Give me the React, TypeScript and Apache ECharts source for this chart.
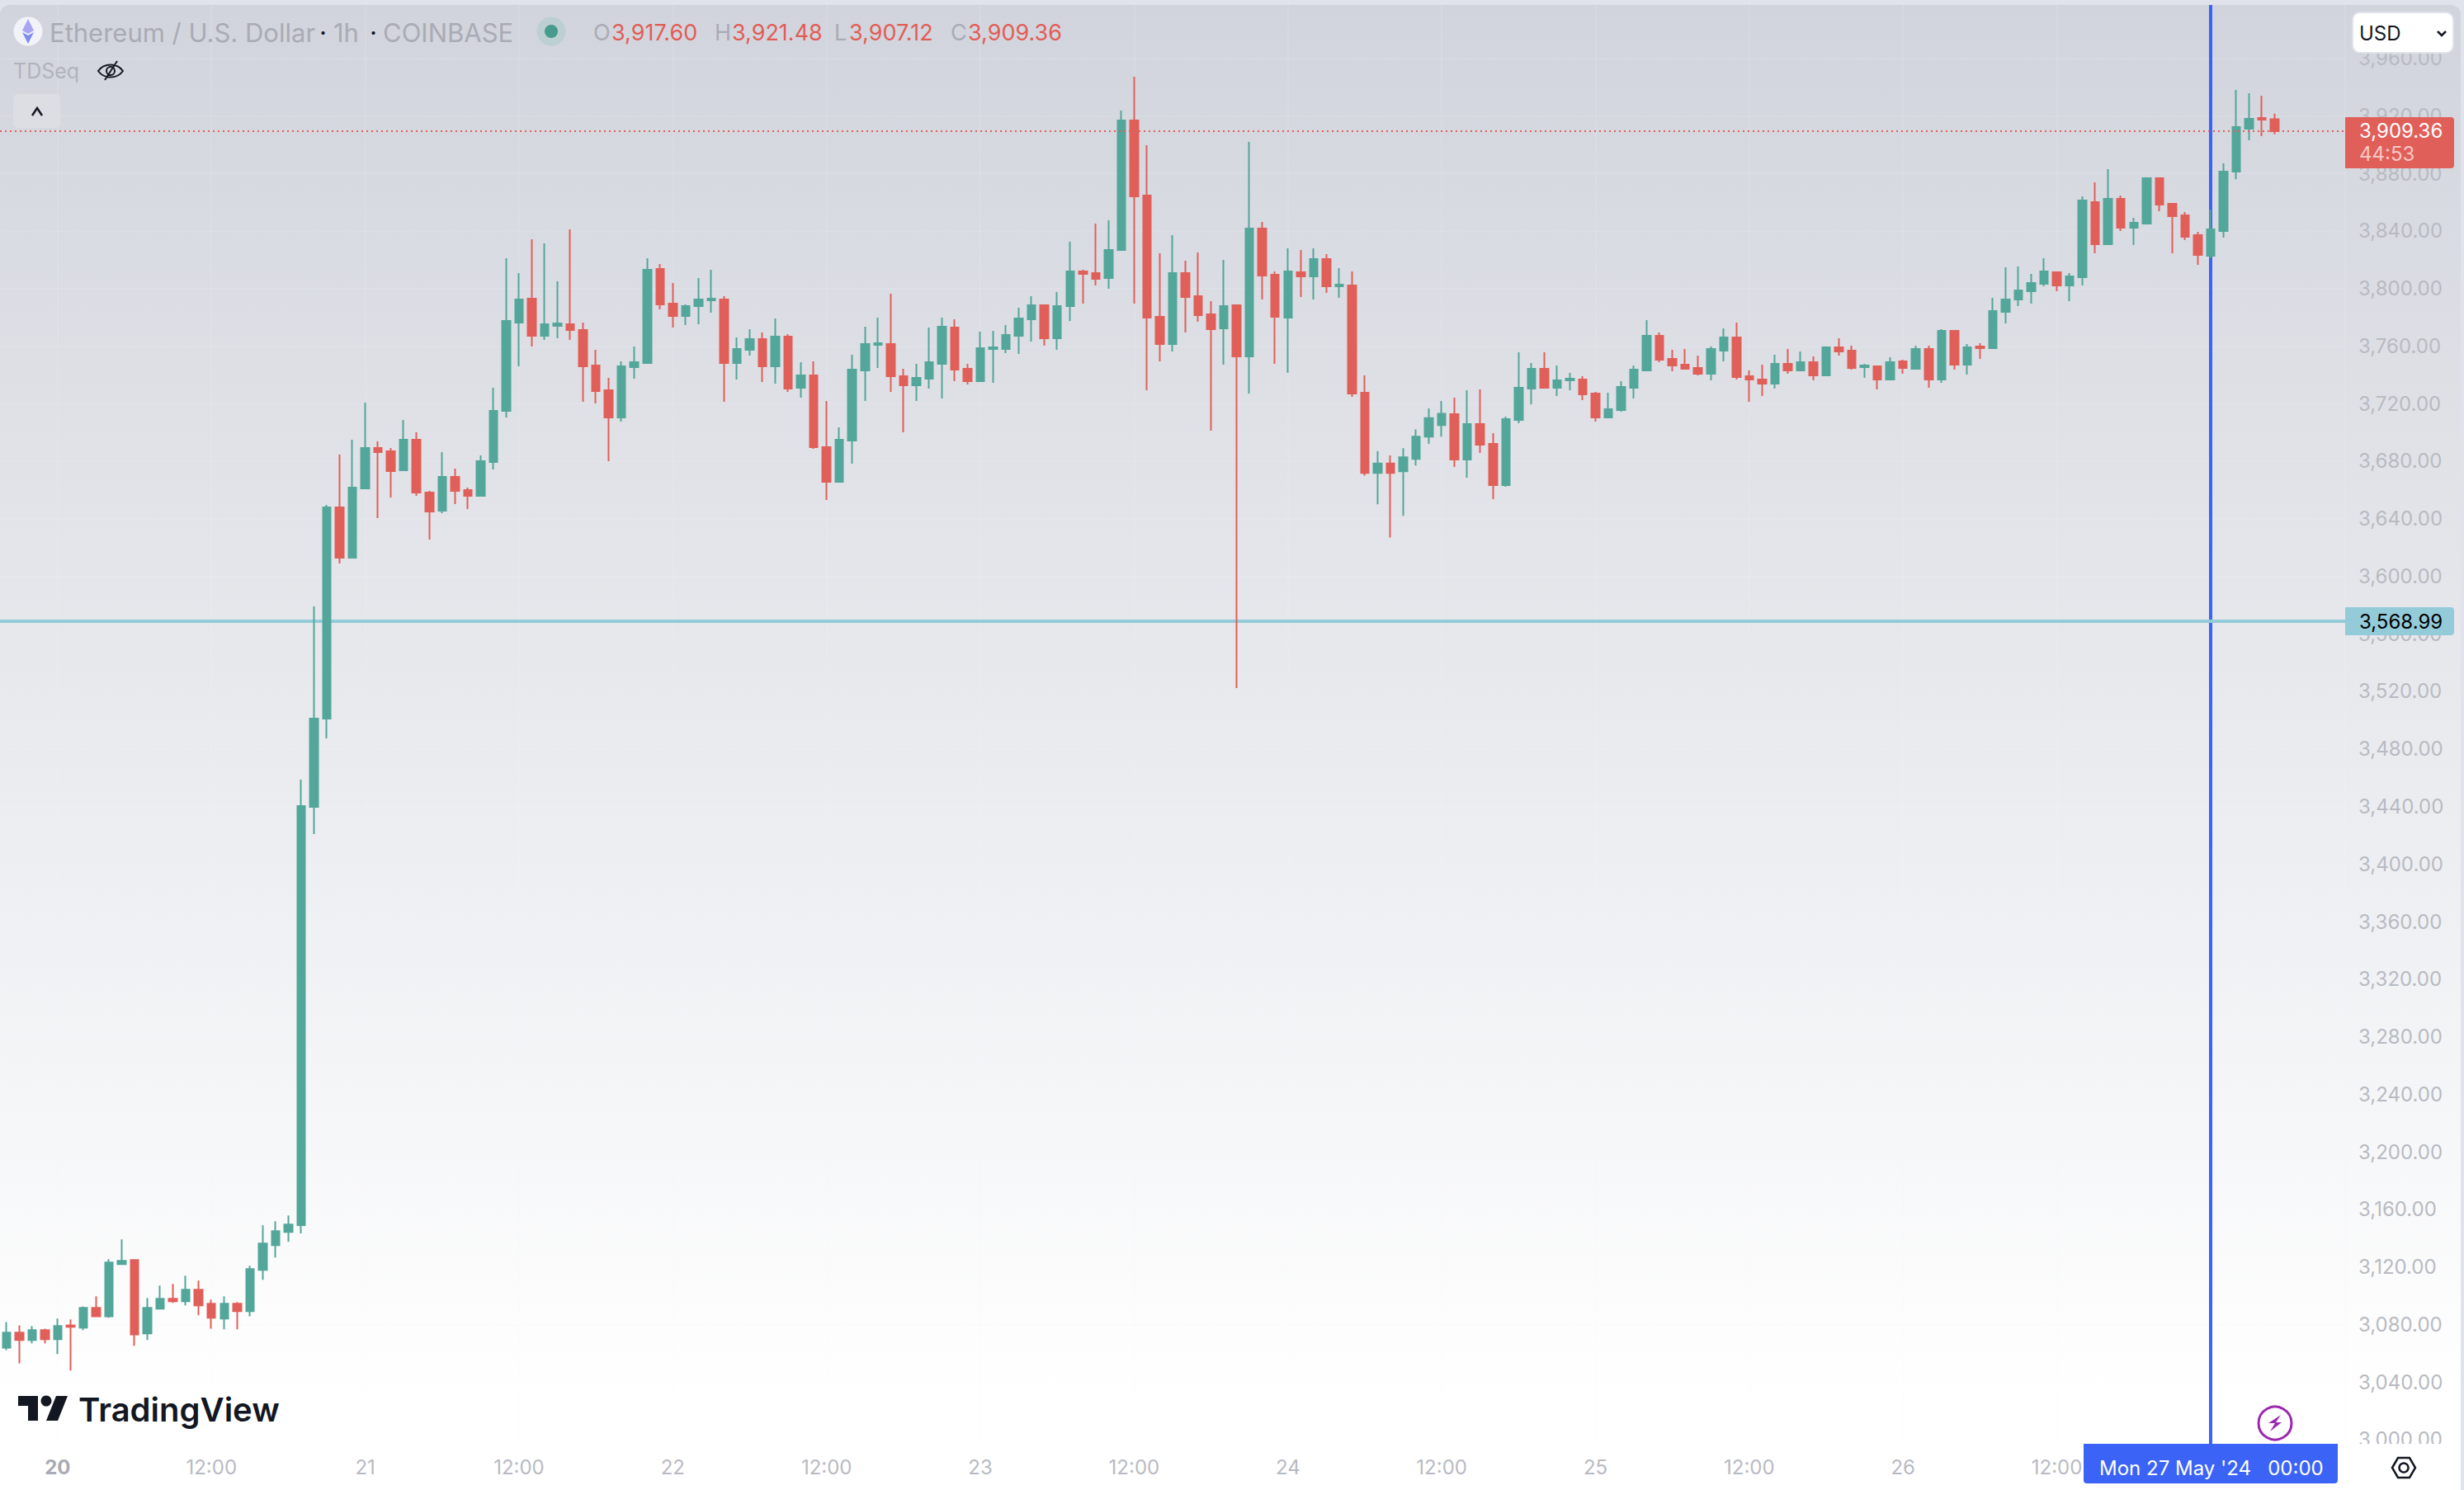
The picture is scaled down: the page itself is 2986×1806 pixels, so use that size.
import React, { useEffect, useRef } from "react";
import * as echarts from "echarts";

const tickLabels = ["20","12:00","21","12:00","22","12:00","23","12:00","24","12:00","25","12:00","26","12:00","27"];
const yTickStep = 40;
const lastPrice = 3909.36;
const markedPrice = 3568.99;
const markedIndex = 172;

const opens = [
3063.9,3074.3,3069.1,3076,3069.7,3079.4,3077.7,3091.5,3085.7,3121.9,3124.8,3073.7,3090.9,3097.8,3096.1,3104.1,3094.4,3084,3094.4,3089.2,3117.9,3135.1,3144.3,3149,3439.7,3501.1,
3647.9,3612.9,3661,3689.1,3686.8,3673.7,3694.9,3658.2,3645.6,3669.1,
3659.9,3655.9,3679.4,3715,3776.3,3792.9,3767.1,3774,3775.2,3771.1,
3746.5,3729.3,3710.4,3745.3,3748.2,3813.6,3789.5,3780.9,3787.8,3791.8,
3792.4,3748.2,3757.4,3764.8,3745.9,3766.6,3731,3739.6,3689.7,3665.6,
3694.3,3743,3760.8,3761.4,3739,3732.7,3737.3,3747.6,3772.9,3744.2,
3735.6,3758,3758,3767.1,3778.6,3788.3,3765.4,3787.8,3811.9,3810.7,
3807.3,3826.8,3916.8,3864.6,3780.3,3761.4,3810.7,3794.6,3782,3772.3,
3788.3,3752.8,3841.7,3809.6,3779.7,3811.3,3808.4,3820.5,3801.5,3802.1,
3727.6,3671.8,3678.4,3673,3681.6,3697,3705,3712.7,3681.1,3705.8,
3692,3663.3,3708.6,3730.4,3744.2,3731,3736.2,3736.7,3727,3710.4,
3715.5,3731,3743,3767.1,3751.1,3747,3744.8,3740.7,3756.8,3766,
3739,3736.7,3733.9,3747.6,3743,3748.8,3739.6,3759.1,3756.8,3745.3,
3745.9,3736.7,3749.4,3744.2,3757.9,3736.7,3770.6,3747.1,3759.7,3758.5,
3783.8,3792.4,3798.1,3803.2,3811.3,3802.1,3807.8,3860,3830.8,3862.3,
3842.2,3845.1,3876.7,3858.9,3850.9,3837.1,3822.7,3840,3881.2,3911,3918.5,3917.6];

const closes = [
3074.3,3069.1,3076,3069.7,3078.9,3078.3,3091.5,3085.7,3123,3124.2,3073.1,3091.5,3097.8,3096.1,3104.1,3093.2,3084.6,3094.4,3089.2,3118.5,3136.2,3144.9,3149.5,3440.3,3501.1,3647.9,
3612.9,3661.6,3689.1,3686.3,3673.1,3694.9,3658.2,3645,3669.1,3659.3,
3655.9,3680,3715,3777.4,3792.3,3767.1,3775.2,3775.7,3771.1,3745.9,
3728.7,3710.4,3745.9,3748.8,3813,3788.9,3780.9,3787.8,3792.4,3792.9,
3748.2,3758,3764.8,3745.9,3766.6,3730.4,3739.6,3689.7,3665.6,3694.9,
3743.6,3761.4,3762,3739,3732.7,3737.9,3748.8,3773.4,3743.6,3735.6,
3758.5,3759.1,3767.7,3779.2,3788.3,3765.4,3787.8,3811.9,3810.1,3806.7,
3826.8,3916.8,3864,3779.7,3761.4,3810.7,3794.1,3781.5,3771.7,3787.8,
3752.8,3841.7,3809,3780.3,3811.9,3808.4,3820.5,3801.5,3802.7,3727,
3671.8,3678.4,3671.8,3682.7,3697,3710,3713,3681.1,3705.8,3691.4,
3663.3,3709.2,3731,3744.2,3731,3736.2,3737.3,3726.4,3710.4,3716.1,
3731.6,3743.6,3767.1,3750.5,3746.5,3744.2,3740.7,3758,3766,3738.5,
3736.7,3733.9,3747.6,3743,3748.8,3739.6,3759.1,3756.2,3744.8,3746.5,
3736.7,3748.8,3744.8,3757.9,3736.7,3770.6,3747.1,3759.1,3758.5,3784.3,
3792.4,3798.7,3803.8,3811.9,3802.1,3808.4,3861.2,3830.8,3862.3,3842.2,
3845.7,3876.7,3858.3,3850.3,3835.9,3823.3,3841.1,3881.2,3912.2,3917.9,3917.4,3909.36];

const lows = [
3062.2,3053,3066.8,3066.8,3059.4,3047.9,3076,3085.2,3084.6,3121.9,3065.1,3069.1,3090.9,3094.9,3093.2,3086.3,3077.1,3076.6,3076.6,3085.7,3111,3126.5,3137.4,3143.3,3420.8,3487.3,
3608.9,3612.3,3661,3640.4,3654.7,3673.1,3655.9,3625.5,3643.9,3650.2,
3646.7,3655.9,3674.2,3710.4,3745.9,3759.7,3764.2,3765.4,3764.2,3721.2,
3720.1,3680,3707.5,3737.3,3747.6,3785.5,3772.9,3774.6,3775.2,3783.2,
3721.2,3736.7,3753.4,3735,3733.9,3728.1,3724.1,3688.6,3653,3665.6,
3678.2,3721.8,3744.8,3728.1,3700,3721.8,3730.4,3723.5,3735.6,3733.3,
3735.6,3734.4,3755.1,3754.5,3763.1,3760.2,3757.4,3777.5,3789.5,3802.1,
3799.8,3826.8,3789.5,3729.3,3749.3,3756.2,3769.4,3776.9,3701.2,3747,
3522.3,3727,3792.4,3747.6,3741.3,3794.1,3792.4,3796.9,3793.5,3724.7,
3670,3650,3627,3642,3677,3692,3697,3676,3668.5,3685.7,
3653.6,3662.2,3706.3,3719.5,3730.4,3725.3,3729.3,3722.4,3707.5,3709.8,
3714.4,3723.5,3743,3748.8,3742.5,3743.6,3739.6,3736.2,3749.3,3736.7,
3721.2,3725.3,3730.4,3740.7,3742.5,3736.2,3739,3753.4,3743.6,3737.9,
3729.9,3736.7,3740.8,3744.2,3731,3734.4,3743.6,3740.2,3751.1,3757.9,
3775.7,3787.8,3789.5,3801.5,3798.1,3791.2,3802.1,3824.5,3830.2,3839.9,
3830.2,3845.1,3853.7,3824.5,3833.6,3816.4,3821,3835.4,3876,3903,3905.9,3907.12];

const highs = [
3081.7,3079.4,3078.9,3077.1,3084,3083.5,3092.6,3099.5,3125.3,3139.1,3125.3,3098.4,3107,3108.1,3113.9,3110.4,3097.2,3099.5,3095.5,3120.8,3148.9,3151.7,3155.8,3458.6,3579.1,3649.6,
3684.6,3694.9,3720.7,3693.7,3689.1,3708.6,3700,3659.3,3686.3,3674.8,
3661.6,3684,3731,3821,3810.7,3834.2,3831.3,3805,3841.1,3776.3,
3757.4,3737.9,3749.3,3759.7,3821,3817,3803.8,3788.9,3807.3,3813,
3794.6,3766,3771.7,3769.4,3779.2,3768.3,3748.8,3749.3,3721.8,3703.5,
3754,3773.4,3779.7,3796.4,3744.2,3747.6,3772.9,3779.7,3778.6,3747.6,
3770,3770.6,3774.6,3786.6,3794.6,3788.3,3797.5,3832.5,3813,3845.1,
3847.4,3923.7,3947.2,3899.6,3824.5,3837.1,3819.3,3825,3791.2,3819.9,
3788.3,3901.9,3846.3,3811.9,3827.9,3826.8,3827.9,3823.9,3814.2,3811.9,
3739.6,3687,3684,3689,3702,3716.7,3721.8,3724.1,3729.3,3729.9,
3699.5,3711,3755.7,3748.2,3755.7,3746.5,3741.3,3739,3728.1,3727.6,
3735.6,3746.5,3778,3769.4,3757.4,3758,3753.4,3759.7,3772.3,3776.3,
3743,3747,3754,3758,3756.2,3752.8,3759.7,3765.4,3760.3,3747.6,
3746.5,3752.2,3750.5,3760.3,3760.3,3771.7,3770.6,3761.4,3762,3793.5,
3814.7,3815.3,3810.1,3821,3811.9,3810.7,3864,3873.8,3882.9,3864.6,
3849.1,3876.7,3877.2,3858.9,3853.1,3839.4,3854.9,3887,3938,3935.7,3934,3921.48];

const FONT = "Inter, 'Noto Sans', sans-serif";
const UP = "#53a69a";
const DOWN = "#e15f59";
const AXIS_TEXT = "#b8bac2";
const INK = "#131722";
const BLUE = "#3b63f6";
const AQUA = "#94cbd9";
const GRID = "rgba(244,246,251,0.12)";

const firstTick = 4;
const ticksPerLabel = 12;
const bandCount = 183;
const categories = Array.from({ length: bandCount }, (_, i) =>
  i >= firstTick && (i - firstTick) % ticksPerLabel === 0 && tickLabels[(i - firstTick) / ticksPerLabel]
    ? tickLabels[(i - firstTick) / ticksPerLabel]
    : String(i)
);
const showTick = (i: number) => i >= firstTick && (i - firstTick) % ticksPerLabel === 0;
const candles = opens.map((o, i) => [o, closes[i], lows[i], highs[i]]);
const money = (v: number) =>
  v.toLocaleString("en-US", { minimumFractionDigits: 2, maximumFractionDigits: 2 });

const txt = (text: string, x: number, y: number, size: number, fill: string, extra: any = {}) => ({
  type: "text",
  x,
  y,
  z: 60,
  silent: true,
  style: {
    text,
    fill,
    font: `${extra.weight || 400} ${size}px ${FONT}`,
    verticalAlign: "middle",
    align: extra.align || "left",
  },
});

function buildGraphics() {
  const z = 60;
  const dim = "#a9abb5";
  const red = "#e25c56";
  const els: any[] = [
    // frame
    { type: "rect", z: 55, silent: true, shape: { x: 0, y: 0, width: 2986, height: 6 }, style: { fill: "#e0e3eb" } },
    { type: "rect", z: 50, silent: true, shape: { x: 2844, y: 1750, width: 138, height: 56 }, style: { fill: "#ffffff" } },
    // symbol
    { type: "circle", z, shape: { cx: 34, cy: 38, r: 17.5 }, style: { fill: "#f2f3f8" } },
    { type: "polygon", z, shape: { points: [[34, 23], [41, 37], [34, 41], [27, 37]] }, style: { fill: "#a7a6f2" } },
    { type: "polygon", z, shape: { points: [[34, 43], [41, 39], [34, 53], [27, 39]] }, style: { fill: "#7f8bef" } },
    txt("Ethereum / U.S. Dollar", 60, 39, 31, dim),
    txt("·", 387, 39, 31, INK),
    txt("1h", 404, 39, 31, dim),
    txt("·", 448, 39, 31, INK),
    txt("COINBASE", 464, 39, 31, dim),
    { type: "circle", z, shape: { cx: 668, cy: 38, r: 17.5 }, style: { fill: "#bcd0d1" } },
    { type: "circle", z, shape: { cx: 668, cy: 38, r: 8 }, style: { fill: "#469b8c" } },
    txt("O", 719, 39, 27, dim),
    txt("3,917.60", 741, 39, 27, red),
    txt("H", 866, 39, 27, dim),
    txt("3,921.48", 887, 39, 27, red),
    txt("L", 1011, 39, 27, dim),
    txt("3,907.12", 1029, 39, 27, red),
    txt("C", 1152, 39, 27, dim),
    txt("3,909.36", 1173, 39, 27, red),
    txt("TDSeq", 16, 86, 25, "#b1b3bc"),
    { type: "eyeOff", z, x: 134, y: 86, silent: true, style: { fill: "none", stroke: INK, lineWidth: 2 } },
    { type: "rect", z, silent: true, shape: { x: 16, y: 114, width: 57, height: 41, r: 6 }, style: { fill: "#dcdee3" } },
    { type: "polyline", z, silent: true, shape: { points: [[39, 140], [45, 131], [51, 140]] }, style: { fill: "none", stroke: INK, lineWidth: 2.5 } },
    // currency button
    { type: "rect", z, silent: true, shape: { x: 2851, y: 15, width: 122, height: 49, r: 9 }, style: { fill: "#ffffff", stroke: "#e0e3eb", lineWidth: 2 } },
    txt("USD", 2859, 40, 24, INK),
    { type: "polyline", z, silent: true, shape: { points: [[2954, 38], [2959, 43], [2964, 38]] }, style: { fill: "none", stroke: INK, lineWidth: 2.5 } },
    // price tags
    { type: "rect", z, silent: true, shape: { x: 2842, y: 142, width: 132, height: 62, r: [0, 4, 4, 0] }, style: { fill: DOWN } },
    txt(money(lastPrice), 2859, 158, 24, "#ffffff"),
    txt("44:53", 2859, 186, 24, "#f6c8c5"),
    { type: "rect", z, silent: true, shape: { x: 2842, y: 736, width: 132, height: 34, r: [0, 4, 4, 0] }, style: { fill: AQUA } },
    txt(money(markedPrice), 2859, 753, 24, "#000000"),
    // time tag
    { type: "rect", z: 58, silent: true, shape: { x: 2677, y: 1740, width: 4, height: 12 }, style: { fill: BLUE } },
    { type: "rect", z, silent: true, shape: { x: 2525, y: 1750, width: 308, height: 48, r: [0, 0, 4, 4] }, style: { fill: BLUE } },
    txt("Mon 27 May '24   00:00", 2544, 1779, 24, "#ffffff"),
    // logo
    { type: "polygon", z, silent: true, shape: { points: [[22, 1692], [46, 1692], [46, 1722], [34, 1722], [34, 1704], [22, 1704]] }, style: { fill: INK } },
    { type: "circle", z, silent: true, shape: { cx: 56, cy: 1698, r: 6.5 }, style: { fill: INK } },
    { type: "polygon", z, silent: true, shape: { points: [[68, 1692], [82, 1692], [70, 1722], [56, 1722]] }, style: { fill: INK } },
    txt("TradingView", 95, 1708, 40, INK, { weight: 600 }),
    // lightning
    { type: "circle", z, silent: true, shape: { cx: 2757, cy: 1725, r: 20 }, style: { fill: "none", stroke: "#9c27b0", lineWidth: 3 } },
    { type: "polygon", z, silent: true, shape: { points: [[2764, 1715], [2749, 1725], [2757, 1725], [2751, 1735], [2765, 1724], [2758, 1724]] }, style: { fill: "#9c27b0" } },
    // settings
    { type: "polygon", z, silent: true, shape: { points: [[2899, 1779], [2906, 1767], [2920, 1767], [2927, 1779], [2920, 1791], [2906, 1791]] }, style: { fill: "none", stroke: INK, lineWidth: 2.5 } },
    { type: "circle", z, silent: true, shape: { cx: 2913, cy: 1779, r: 5.5 }, style: { fill: "none", stroke: INK, lineWidth: 2.5 } },
  ];
  return els;
}

echarts.graphic.registerShape(
  "eyeOff",
  echarts.graphic.extendPath(
    "M-15 0C-8 -10 8 -10 15 0C8 10 -8 10 -15 0ZM-7 11L8 -12M-5 0A5 5 0 0 1 5 0A5 5 0 0 1 -5 0Z",
    {}
  ) as any
);

export default function App() {
  const ref = useRef<HTMLDivElement>(null);
  useEffect(() => {
    document.body.style.margin = "0";
    const chart = echarts.init(ref.current!, undefined, { renderer: "svg" });
    chart.setOption({
      animation: false,
      backgroundColor: "transparent",
      grid: { left: -3.3, top: 0.87, width: 2845.3, height: 1744, containLabel: false },
      xAxis: {
        type: "category",
        data: categories,
        boundaryGap: true,
        axisLine: { show: false },
        axisTick: { show: false },
        splitLine: { show: true, alignWithLabel: true, interval: (i: number) => showTick(i), lineStyle: { color: GRID, width: 2 } },
        axisLabel: {
          interval: (i: number) => showTick(i),
          margin: 22,
          hideOverlap: false,
          color: AXIS_TEXT,
          fontFamily: FONT,
          fontSize: 24,
          formatter: (v: string) => (v === tickLabels[0] ? `{b|${v}}` : v),
          rich: { b: { color: "#a9abb5", fontFamily: FONT, fontSize: 24, fontWeight: 700 } },
        },
      },
      yAxis: {
        type: "value",
        position: "right",
        min: 3000,
        max: 4000,
        interval: yTickStep,
        axisLine: { show: true, lineStyle: { color: GRID, width: 2 } },
        axisTick: { show: false },
        splitLine: { show: true, lineStyle: { color: GRID, width: 2 } },
        axisLabel: {
          margin: 16,
          padding: [0, 0, 3, 0],
          color: AXIS_TEXT,
          fontFamily: FONT,
          fontSize: 24,
          formatter: (v: number) => (v === 4000 ? "" : money(v)),
        },
      },
      series: [
        {
          type: "candlestick",
          data: candles,
          barWidth: 10,
          itemStyle: { color: UP, color0: DOWN, borderColor: UP, borderColor0: DOWN, borderWidth: 2 },
          markLine: {
            silent: true,
            z: 1,
            symbol: "none",
            label: { show: false },
            data: [
              { xAxis: markedIndex, lineStyle: { color: BLUE, width: 4, type: "solid" } },
              { yAxis: markedPrice, lineStyle: { color: AQUA, width: 4, type: "solid" } },
            ],
          },
        },
        {
          type: "line",
          data: [],
          z: 3,
          markLine: {
            silent: true,
            z: 6,
            symbol: "none",
            label: { show: false },
            data: [{ yAxis: lastPrice, lineStyle: { color: DOWN, width: 2, type: [2, 4] } }],
          },
        },
      ],
      graphic: { elements: buildGraphics() },
    });
    return () => chart.dispose();
  }, []);
  return (
    <div style={{ position: "fixed", left: 0, top: 0, width: 2986, height: 1806, background: "#e0e3eb", overflow: "hidden" }}>
      <div
        style={{
          position: "absolute",
          left: 0,
          top: 6,
          width: 2982,
          height: 1800,
          borderRadius: "12px 12px 0 0",
          background: "linear-gradient(180deg, #d1d4dc 0%, #ffffff 94%)",
        }}
      />
      <div ref={ref} style={{ position: "absolute", left: 0, top: 0, width: 2986, height: 1806 }} />
    </div>
  );
}
